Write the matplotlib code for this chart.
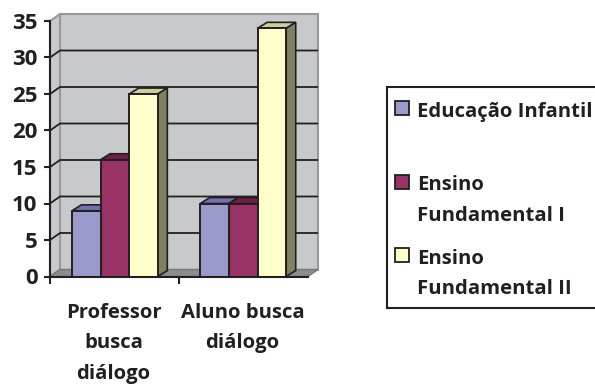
from matplotlib import pyplot as plt
from matplotlib.patches import Polygon, Rectangle

plt.rcParams['font.family'] = ['Open Sans', 'DejaVu Sans']
plt.rcParams['font.weight'] = 'bold'

categories = ['Professor\nbusca\ndiálogo', 'Aluno busca\ndiálogo']
series_names = ['Educação Infantil', 'Ensino\nFundamental I', 'Ensino\nFundamental II']
infantil = [9, 10]
fund_1 = [16, 10]
fund_2 = [25, 34]
y_ticks = [0, 5, 10, 15, 20, 25, 30, 35]

face_colors = ['#9999cc', '#993366', '#ffffcc']
top_colors = ['#7272b0', '#702048', '#cccc9c']
side_colors = ['#6e6e9a', '#6c2248', '#808064']
text_color = '#231f20'
line_color = '#231f20'

W, H = 595, 385
fig = plt.figure(figsize=(W / 100, H / 100), dpi=100)

# front plane of the fake 3D box, in pixels
left, right, top, bottom = 50, 308, 21, 276.5
ax = fig.add_axes([left / W, 1 - bottom / H, (right - left) / W, (bottom - top) / H])
ax.set_xlim(0, 2)
ax.set_ylim(0, 35)
ax.patch.set_visible(False)
for s in ax.spines.values():
    s.set_visible(False)

# depth of the box in data units
dx = 10 / (right - left) * 2
dy = 7 / (bottom - top) * 35


def poly(pts, fc, ec=line_color, lw=1.5, z=1):
    ax.add_patch(Polygon(pts, closed=True, facecolor=fc, edgecolor=ec, linewidth=lw,
                         zorder=z, clip_on=False))


# walls and floor
poly([(dx, dy), (2 + dx, dy), (2 + dx, 35 + dy), (dx, 35 + dy)], '#c8c9cb', ec='#98999b', lw=1.5)
poly([(0, 0), (dx, dy), (dx, 35 + dy), (0, 35)], '#c8c9cb', ec='#98999b', lw=1.5)
poly([(0, 0), (2, 0), (2 + dx, dy), (dx, dy)], '#8c8d8f', ec='#77787a', lw=1, z=1.5)

# gridlines run along the back wall and down the side wall
for t in y_ticks[1:-1]:
    ax.plot([0, dx, 2 + dx], [t, t + dy, t + dy], color=line_color, lw=1.3, zorder=2,
            clip_on=False, solid_capstyle='butt')

# bars: front face from the axes, top and side faces offset by the box depth
bar_w = 0.222
bar_dx = dx * 0.95
bar_dy = dy * 0.85
x_start = [0.17, 1.165]
for i, vals in enumerate([infantil, fund_1, fund_2]):
    for c, v in enumerate(vals):
        x0 = x_start[c] + i * bar_w
        poly([(x0, v), (x0 + bar_dx, v + bar_dy), (x0 + bar_w + bar_dx, v + bar_dy), (x0 + bar_w, v)],
             top_colors[i], lw=1.2, z=3 + i)
        poly([(x0 + bar_w, 0), (x0 + bar_w + bar_dx, bar_dy), (x0 + bar_w + bar_dx, v + bar_dy), (x0 + bar_w, v)],
             side_colors[i], lw=1.2, z=3 + i)
        ax.bar(x0, v, width=bar_w, align='edge', color=face_colors[i], edgecolor=line_color,
               linewidth=1.4, zorder=3.5 + i)

# axes lines and ticks
ax.plot([0, 0], [0, 35], color=line_color, lw=1.5, zorder=8, clip_on=False)
ax.plot([0, 2], [0, 0], color=line_color, lw=1.5, zorder=8, clip_on=False)
ax.set_yticks(y_ticks)
ax.set_xticks([0, 1])
ax.set_xticklabels([])
ax.tick_params(axis='y', length=4, width=1.5, color=line_color, labelsize=16,
               labelcolor=text_color, pad=5)
ax.tick_params(axis='x', length=5, width=1.5, color=line_color)

for c, name in enumerate(categories):
    ax.annotate(name, xy=(c + 0.5, 0), xytext=(-1, -26), textcoords='offset pixels',
                ha='center', va='top', fontsize=14.6, color=text_color, linespacing=1.72)

# legend box runs off the right edge of the figure
fig.add_artist(Rectangle((387 / W, 1 - 308 / H), 240 / W, 221 / H, transform=fig.transFigure,
                         facecolor='white', edgecolor=line_color, linewidth=1.5))
legend_y = [108, 182, 255]
for name, color, y in zip(series_names, face_colors, legend_y):
    fig.add_artist(Rectangle((394.5 / W, 1 - (y + 7) / H), 14 / W, 14 / H, transform=fig.transFigure,
                             facecolor=color, edgecolor=line_color, linewidth=1.3))
    fig.text(417 / W, 1 - (y - 6.5) / H, name, ha='left', va='top', fontsize=14.6,
             color=text_color, linespacing=1.72)

fig.savefig('out.png', dpi=100)
